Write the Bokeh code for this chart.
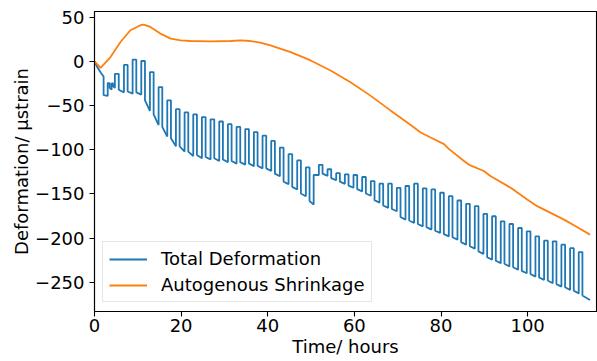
from bokeh.plotting import figure
from bokeh.models import Range1d, Legend, LegendItem, FixedTicker
from bokeh.embed import file_html
from bokeh.resources import INLINE

# ---------------- data ----------------
# Autogenous shrinkage (time in hours, deformation in microstrain)
shrink_t = [0, 1.4, 3.7, 6.0, 8.3, 10.6, 11.4, 12.9, 15.2, 17.6, 19.9, 22.2,
            26.8, 31.4, 33.7, 36.0, 38.3, 40.6, 45.3, 49.9, 54.5, 59.1, 63.7,
            68.4, 73.0, 75.3, 77.6, 80.7, 81.8, 85.3, 86.5, 89.9, 91.4, 96.1,
            99.9, 102.2, 105.3, 108.4, 111.5, 114.4]
shrink_v = [0, -7.2, 4.9, 22, 35.3, 41, 41.7, 39, 31.5, 25.8, 23.9, 23.1,
            22.8, 23.1, 23.9, 23.1, 21.3, 18.2, 10.6, 1.1, -10.2, -23.5, -38.7,
            -55.7, -72, -80.4, -86.1, -93.6, -99, -112.6, -117, -124, -129.7, -143,
            -156.2, -163.8, -171.4, -179, -187.7, -196]

# Total deformation: initial segment before cyclic loading
init_t = [0, 0.7, 1.5, 2.1, 2.1, 3.05]
init_v = [0, -7, -13, -17, -38, -39]

# Total deformation: one entry per load cycle
# unloading time, reloading time, value while unloaded,
# value right after reloading, value at end of loaded period
cycle_rise_t = [3.05, 3.95, 4.7, 6.8, 8.8, 10.8, 12.8, 14.8, 16.8, 18.8,
                20.8, 22.8, 24.8, 26.8, 28.8, 30.8, 32.8, 34.8, 36.8, 38.8,
                40.8, 42.8, 44.8, 46.8, 48.8, 50.6,
                51.8, 53.8, 55.8, 57.8, 59.8, 61.8, 63.8, 65.8, 67.8, 69.8,
                71.8, 73.8, 75.8, 77.8, 79.8, 81.8, 83.8, 85.8, 87.8, 89.8,
                91.8, 93.8, 95.8, 97.8, 99.8, 101.8, 103.8, 105.8, 107.8, 109.8,
                111.8]
cycle_fall_t = [3.5, 4.3, 5.6, 7.65, 9.65, 11.65, 13.65, 15.65, 17.65, 19.65,
                21.65, 23.65, 25.65, 27.65, 29.65, 31.65, 33.65, 35.65, 37.65, 39.65,
                41.65, 43.65, 45.65, 47.65, 49.65, 51.8,
                52.65, 54.65, 56.65, 58.65, 60.65, 62.65, 64.65, 66.65, 68.65, 70.65,
                72.65, 74.65, 76.65, 78.65, 80.65, 82.65, 84.65, 86.65, 88.65, 90.65,
                92.65, 94.65, 96.65, 98.65, 100.65, 102.65, 104.65, 106.65, 108.65, 110.65,
                112.65]
cycle_top_v = [-24.5, -25, -14, -4, 2, 0.5, -12, -29, -44, -54,
               -57.7, -60, -63, -65.5, -68, -71, -74, -76.6, -80, -84,
               -90, -97.5, -105, -112, -120, -128.5,
               -117, -122, -126.5, -127.8, -128.5, -130.8, -135.4, -138.4, -138.4, -143,
               -141, -138.4, -143.7, -144.9, -148.6, -152.4, -157.4, -161.2, -163.8, -172.6,
               -175.2, -180.9, -184, -188.5, -192.3, -198, -202.9, -203.6, -207.4, -211.3,
               -215.8]
cycle_drop_v = [-30, -28, -32, -34, -35, -44, -60, -74, -87, -96,
                -102, -106, -108, -109.6, -111, -112.7, -114, -115.5, -118, -121,
                -127, -136, -142, -149.5, -158, -128.5,
                -127, -132, -136, -140.5, -144.5, -149.5, -157, -163, -167, -176,
                -180, -184, -187.5, -191.5, -195.5, -199, -204.5, -209, -215, -221.5,
                -225.5, -229, -233, -237, -240.5, -244.5, -248, -252, -255.5, -259.5,
                -265]
cycle_bot_v = [-32, -30, -35, -36.5, -37.5, -56, -72, -85, -96, -102,
               -107, -109.6, -111, -112.6, -114, -115.7, -117, -118.5, -121, -124,
               -130, -139, -145, -152.5, -162, -128.5,
               -129.5, -134.5, -138.5, -143, -147, -152, -160, -165.7, -169.5, -179,
               -182.8, -186.6, -190.3, -194.2, -198, -201.7, -207.4, -212, -218, -224.5,
               -228.3, -232, -235.8, -239.7, -243.5, -247.2, -251, -254.8, -258.6, -262.5,
               -268]
end_t = 114.4
end_v = -270

x_ticks = [0, 20, 40, 60, 80, 100]
y_ticks = [-250, -200, -150, -100, -50, 0, 50]
y_tick_labels = ["\u2212250", "\u2212200", "\u2212150", "\u2212100", "\u221250", "0", "50"]

# ---------------- build the total-deformation path ----------------
xs = list(init_t)
ys = list(init_v)
n = len(cycle_rise_t)
for i in range(n):
    xs += [cycle_rise_t[i], cycle_fall_t[i], cycle_fall_t[i]]
    ys += [cycle_top_v[i], cycle_top_v[i], cycle_drop_v[i]]
    if i + 1 < n:
        xs.append(cycle_rise_t[i + 1])
        ys.append(cycle_bot_v[i])
    else:
        xs += [end_t]
        ys += [end_v]

FONT = "DejaVu Sans"
FS = "18px"

p = figure(width=597, height=361, output_backend="svg", toolbar_location=None,
           x_range=Range1d(0, 115.9), y_range=Range1d(-283, 56.5),
           min_border_left=94, min_border_right=1, min_border_top=11,
           min_border_bottom=50)
p.background_fill_color = "white"
p.border_fill_color = "white"
p.outline_line_color = "black"
p.outline_line_width = 1.1
p.xgrid.visible = False
p.ygrid.visible = False

r1 = p.line(xs, ys, line_color="#1f77b4", line_width=1.8)
r2 = p.line(shrink_t, shrink_v, line_color="#ff7f0e", line_width=1.8)

for ax in (p.xaxis[0], p.yaxis[0]):
    ax.axis_line_color = "black"
    ax.axis_line_width = 1.1
    ax.major_tick_line_color = "black"
    ax.major_tick_line_width = 1.1
    ax.major_tick_out = 5
    ax.major_tick_in = 0
    ax.minor_tick_out = 0
    ax.minor_tick_in = 0
    ax.major_label_text_font = FONT
    ax.major_label_text_font_size = FS
    ax.major_label_text_color = "black"
    ax.axis_label_text_font = FONT
    ax.axis_label_text_font_size = FS
    ax.axis_label_text_font_style = "normal"
    ax.axis_label_text_color = "black"

p.xaxis[0].ticker = FixedTicker(ticks=x_ticks)
p.yaxis[0].ticker = FixedTicker(ticks=y_ticks)
p.yaxis[0].major_label_overrides = {v: s for v, s in zip(y_ticks, y_tick_labels)}
p.xaxis[0].axis_label = "Time/ hours"
p.yaxis[0].axis_label = "Deformation/ \u03bcstrain"
p.xaxis[0].major_label_standoff = 2
p.xaxis[0].axis_label_standoff = 1
p.yaxis[0].major_label_standoff = 5
p.yaxis[0].axis_label_standoff = 0

legend = Legend(items=[LegendItem(label="Total Deformation", renderers=[r1]),
                       LegendItem(label="Autogenous Shrinkage", renderers=[r2])],
                location=(8, 9), margin=0, padding=6, spacing=5,
                glyph_width=38, glyph_height=20, label_height=20,
                label_standoff=14,
                label_text_font=FONT, label_text_font_size=FS,
                label_text_color="black",
                border_line_color="#cccccc", border_line_width=1,
                background_fill_color="white", background_fill_alpha=0.8)
p.add_layout(legend)

open("out.html", "w").write(file_html(p, INLINE))
